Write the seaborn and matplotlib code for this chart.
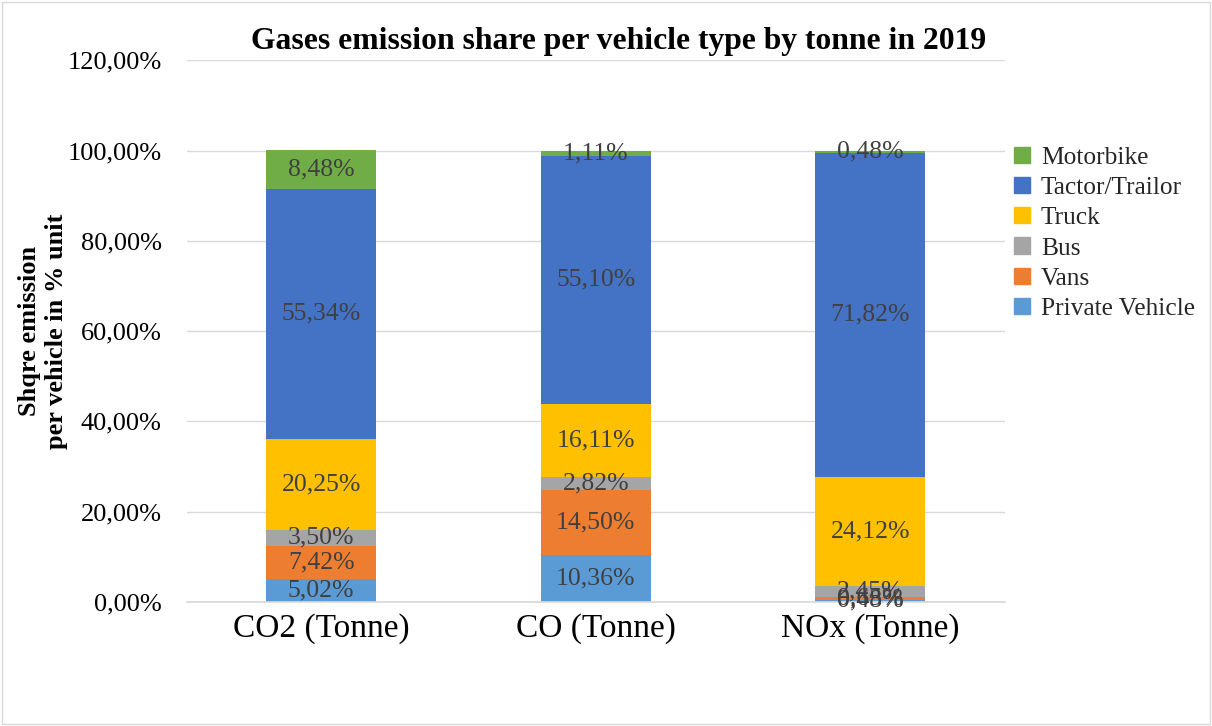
import matplotlib
matplotlib.use("Agg")
import matplotlib.pyplot as plt
import seaborn as sns
import pandas as pd
import numpy as np

categories = ["CO2 (Tonne)", "CO (Tonne)", "NOx (Tonne)"]
series_names = ["Private Vehicle", "Vans", "Bus", "Truck", "Tactor/Trailor", "Motorbike"]
private_vehicle = [5.02, 10.36, 0.48]
vans = [7.42, 14.50, 0.65]
bus = [3.50, 2.82, 2.45]
truck = [20.25, 16.11, 24.12]
tactor_trailor = [55.34, 55.10, 71.82]
motorbike = [8.48, 1.11, 0.48]
y_ticks = [0, 20, 40, 60, 80, 100, 120]

colors = ["#5B9BD5", "#ED7D31", "#A5A5A5", "#FFC000", "#4472C4", "#70AD47"]

sns.set_theme(style="white")
plt.rcParams["font.family"] = ["Liberation Serif", "DejaVu Serif"]

fig = plt.figure(figsize=(12.12, 7.26), dpi=100)
ax = fig.add_axes([0.154, 0.171, 0.675, 0.746])

values = [private_vehicle, vans, bus, truck, tactor_trailor, motorbike]
bottom = np.zeros(len(categories))
handles = []
for name, vals, col in zip(series_names, values, colors):
    df = pd.DataFrame({"cat": categories, "val": vals})
    sns.barplot(data=df, x="cat", y="val", color=col, width=0.4, bottom=bottom,
                ax=ax, linewidth=0, saturation=1, order=categories)
    cont = ax.containers[-1]
    ax.bar_label(cont, labels=[f"{v:.2f}%".replace(".", ",") for v in vals],
                 label_type="center", fontsize=18.5, color="#404040")
    handles.append(plt.Rectangle((0, 0), 1, 1, color=col))
    bottom = bottom + np.array(vals)

ax.set_ylim(0, 120)
ax.set_xlim(-0.49, 2.49)
ax.set_yticks(y_ticks)
ax.set_yticklabels([f"{t:.2f}%".replace(".", ",") for t in y_ticks], fontsize=19, color="#000000")
ax.tick_params(axis="x", labelsize=24, colors="#000000", length=0, pad=8)
ax.tick_params(axis="y", length=0, pad=18)
ax.yaxis.grid(True, color="#D9D9D9", linewidth=1)
ax.set_axisbelow(True)
for s in ["top", "right", "left"]:
    ax.spines[s].set_visible(False)
ax.spines["bottom"].set_color("#D9D9D9")
ax.set_xlabel("")
ax.set_ylabel("Shqre emission\nper vehicle in % unit", fontsize=19, fontweight="bold",
              color="#000000", linespacing=1.2)
ax.yaxis.set_label_coords(-0.145, 0.5)
fig.text(0.51, 1 - 42 / 726, "Gases emission share per vehicle type by tonne in 2019",
         fontsize=22.8, fontweight="bold", color="#000000", ha="center", va="center")

leg = ax.legend(handles[::-1], series_names[::-1], loc="upper left",
                bbox_to_anchor=(0.993, 0.868), frameon=False, fontsize=18.3,
                handlelength=0.6, handleheight=0.6, handletextpad=0.45,
                labelspacing=0.32, borderaxespad=0.2)

fig.patches.append(plt.Rectangle((0.002, 0.003), 0.996, 0.994, transform=fig.transFigure,
                                 fill=False, edgecolor="#D9D9D9", linewidth=1))
fig.savefig("out.png", dpi=100, facecolor="white")
